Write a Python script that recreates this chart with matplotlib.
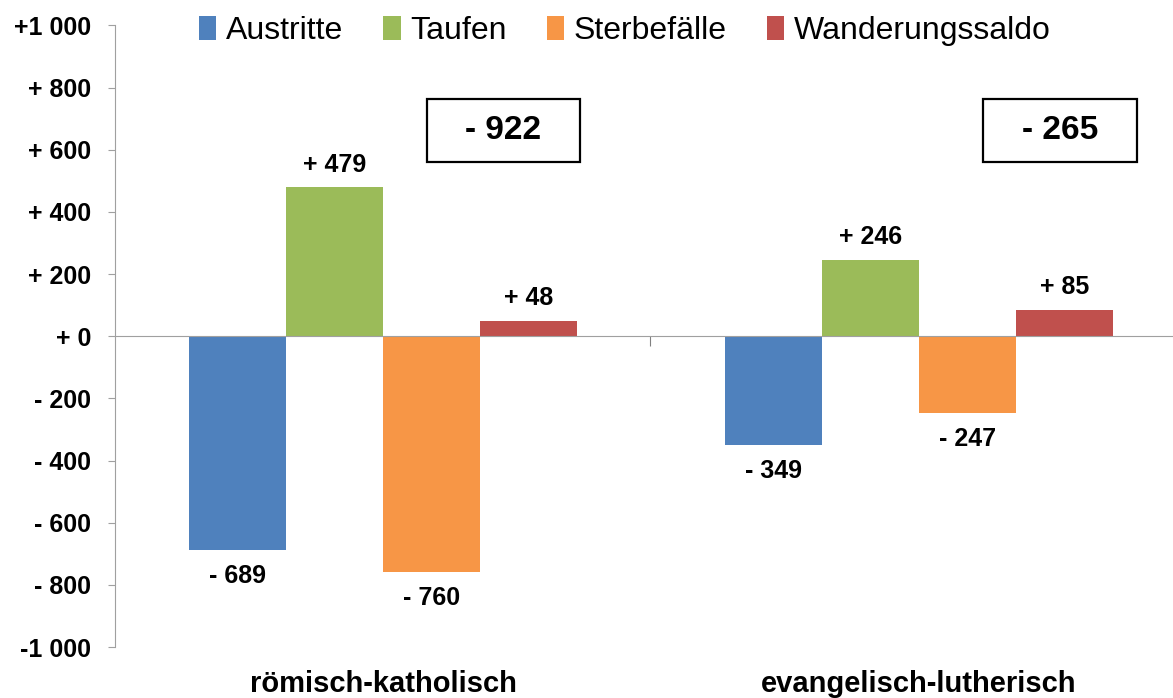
import numpy as np
import matplotlib.pyplot as plt
from matplotlib.patches import Rectangle

plt.rcParams['font.family'] = ['Liberation Sans', 'DejaVu Sans']

categories = ['römisch-katholisch', 'evangelisch-lutherisch']
series = ['Austritte', 'Taufen', 'Sterbefälle', 'Wanderungssaldo']
austritte = [-689, -349]
taufen = [479, 246]
sterbefaelle = [-760, -247]
wanderung = [48, 85]
totals = [-922, -265]
colors = ['#4f81bd', '#9bbb59', '#f79646', '#c0504d']

values = [austritte, taufen, sterbefaelle, wanderung]


def fmt(v):
    if abs(v) >= 1000:
        s = '{:,}'.format(abs(v)).replace(',', ' ')
        return ('+' if v > 0 else '-') + s
    return ('+ ' if v >= 0 else '- ') + str(abs(v))


fig = plt.figure(figsize=(11.73, 6.98), dpi=100)
ax = fig.add_axes([0.098, 0.073, 0.902, 0.8905])

x = np.arange(len(categories))
w = 0.181
for i, (name, vals, c) in enumerate(zip(series, values, colors)):
    pos = x + (i - 1.5) * w
    ax.bar(pos, vals, w, color=c, label=name)
    for p, v in zip(pos, vals):
        if v >= 0:
            ax.text(p, v + 35, fmt(v), ha='center', va='bottom',
                    fontsize=18, fontweight='bold')
        else:
            ax.text(p, v - 45, fmt(v), ha='center', va='top',
                    fontsize=18, fontweight='bold')

# boxes with the net totals
for xc, t in zip([0.225, 1.263], totals):
    ax.add_patch(Rectangle((xc - 0.143, 560), 0.286, 202, fill=False,
                           ec='black', lw=1.6, zorder=3))
    ax.text(xc, 661, fmt(t), ha='center', va='center', fontsize=24,
            fontweight='bold')

ax.set_xlim(-0.5, 1.474)
ax.set_ylim(-1000, 1000)
ticks = np.arange(-1000, 1001, 200)
ax.set_yticks(ticks)
ax.set_yticklabels([fmt(v) for v in ticks], fontsize=18, fontweight='bold')
ax.set_xticks([0.498])
ax.set_xticklabels([''])
ax.spines['bottom'].set_position(('data', 0))
for s in ['top', 'right']:
    ax.spines[s].set_visible(False)
ax.spines['left'].set_color('#a0a0a0')
ax.spines['bottom'].set_color('#a0a0a0')
ax.tick_params(axis='y', colors='#a0a0a0', labelcolor='black', length=5, pad=12)
ax.tick_params(axis='x', colors='#808080', length=7, direction='out')

for xc, c in zip(x, categories):
    ax.text(xc, -1075, c, ha='center', va='top', fontsize=21, fontweight='bold')

ax.legend(loc='upper center', bbox_to_anchor=(0.482, 1.062), ncol=4, frameon=False,
          fontsize=23, handlelength=0.55, handleheight=0.8, handletextpad=0.3,
          columnspacing=1.25)

fig.savefig('out.png', dpi=100)
